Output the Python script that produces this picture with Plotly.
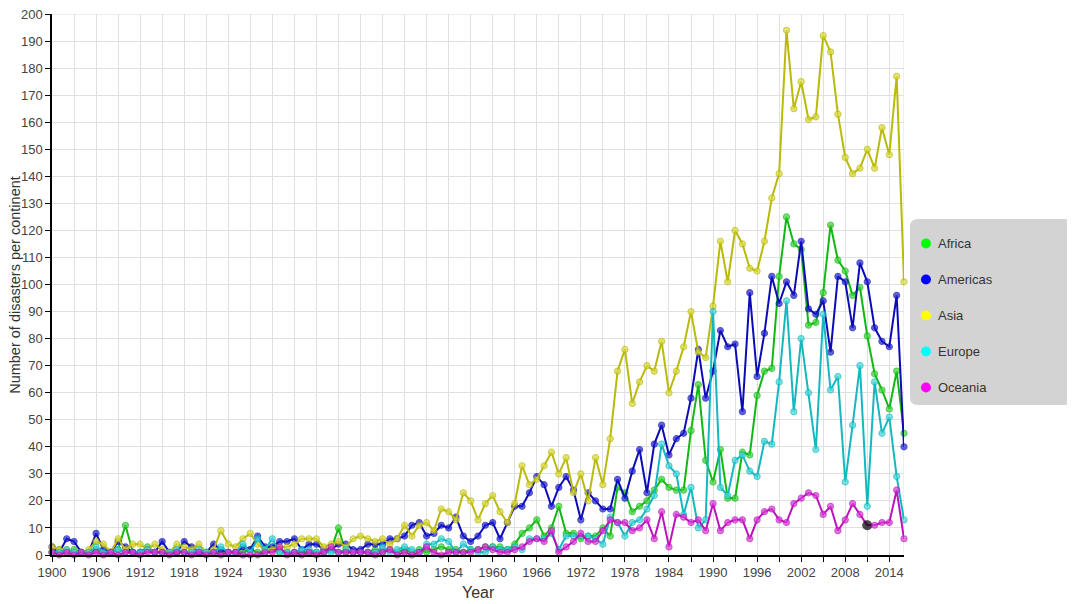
import plotly.graph_objects as go

years = list(range(1900, 2017))

africa = [1, 2, 1, 2, 1, 1, 2, 1, 1, 2, 11, 1, 1, 3, 1, 1, 1, 1, 1, 1,
          1, 1, 1, 1, 1, 1, 1, 2, 1, 1, 2, 1, 1, 1, 1, 1, 1, 1, 2, 10,
          1, 1, 1, 1, 2, 1, 2, 1, 2, 1, 2, 1, 2, 3, 2, 2, 1, 2, 2, 3,
          3, 3, 2, 4, 8, 10, 13, 7, 10, 18, 8, 8, 6, 7, 7, 10, 7, 25, 23, 16,
          18, 20, 24, 28, 25, 24, 24, 46, 63, 35, 27, 39, 21, 21, 38, 37, 59, 68, 69, 103,
          125, 115, 113, 85, 86, 97, 122, 109, 105, 96, 99, 81, 67, 61, 54, 68, 45]

americas = [3, 1, 6, 5, 1, 1, 8, 2, 1, 5, 3, 1, 1, 2, 1, 5, 1, 1, 5, 3,
            1, 1, 4, 2, 1, 1, 3, 2, 7, 3, 3, 5, 5, 6, 2, 4, 4, 2, 2, 4,
            4, 2, 2, 4, 4, 4, 6, 6, 7, 11, 12, 7, 8, 11, 10, 14, 7, 5, 7, 11,
            12, 6, 12, 18, 18, 23, 29, 26, 18, 25, 29, 24, 13, 23, 20, 17, 17, 28, 21, 31,
            39, 23, 41, 48, 37, 43, 45, 58, 76, 58, 68, 83, 77, 78, 53, 97, 66, 82, 103, 93,
            101, 96, 116, 91, 89, 94, 75, 103, 101, 84, 108, 101, 84, 79, 77, 96, 40]

asia = [3, 2, 2, 1, 1, 2, 5, 4, 1, 6, 2, 4, 4, 2, 4, 2, 1, 4, 3, 2,
        4, 1, 2, 9, 4, 3, 6, 8, 4, 2, 2, 3, 3, 4, 6, 6, 6, 3, 4, 5,
        3, 6, 7, 6, 5, 6, 4, 6, 11, 7, 11, 12, 9, 17, 16, 13, 23, 20, 13, 19,
        22, 16, 12, 19, 33, 26, 28, 33, 38, 30, 36, 23, 30, 20, 36, 26, 43, 68, 76, 56,
        64, 70, 68, 79, 60, 68, 77, 90, 75, 73, 92, 116, 101, 120, 115, 106, 105, 116, 132, 141,
        194, 165, 175, 161, 162, 192, 186, 163, 147, 141, 143, 150, 143, 158, 148, 177, 101]

europe = [1, 1, 2, 1, 1, 1, 3, 1, 1, 2, 1, 1, 1, 2, 1, 1, 1, 2, 1, 1,
          2, 1, 1, 3, 1, 1, 4, 1, 6, 2, 6, 1, 1, 1, 2, 2, 1, 1, 1, 1,
          2, 1, 1, 1, 1, 3, 1, 2, 3, 2, 1, 4, 4, 6, 5, 1, 4, 2, 1, 1,
          3, 2, 2, 3, 2, 6, 6, 6, 8, 2, 7, 7, 7, 7, 6, 4, 14, 12, 7, 12,
          13, 17, 22, 41, 33, 30, 15, 25, 10, 13, 90, 25, 22, 35, 37, 31, 29, 42, 41, 64,
          94, 53, 80, 60, 39, 89, 61, 66, 27, 48, 70, 18, 64, 45, 51, 29, 13]

oceania = [1, 0, 1, 0, 1, 0, 1, 0, 1, 0, 1, 1, 0, 1, 1, 1, 0, 1, 1, 0,
           1, 0, 1, 0, 1, 1, 0, 0, 0, 1, 1, 3, 0, 1, 0, 1, 0, 1, 3, 1,
           1, 1, 1, 1, 0, 1, 2, 0, 1, 0, 1, 3, 1, 0, 1, 1, 1, 1, 2, 3,
           2, 1, 1, 2, 3, 5, 6, 5, 9, 1, 3, 5, 8, 5, 5, 9, 13, 12, 12, 9,
           10, 13, 6, 16, 3, 15, 14, 12, 13, 9, 19, 9, 12, 13, 13, 6, 13, 16, 17, 13,
           12, 19, 21, 23, 22, 15, 18, 9, 13, 19, 15, 11, 11, 12, 12, 24, 6]

continents = ["Africa", "Americas", "Asia", "Europe", "Oceania"]
series = [africa, americas, asia, europe, oceania]
line_colors = ["rgb(18,184,18)", "rgb(12,12,182)", "rgb(186,186,10)", "rgb(20,184,190)", "rgb(188,20,188)"]
fill_colors = ["rgb(60,215,60)", "rgb(30,30,215)", "rgb(220,220,60)", "rgb(70,220,220)", "rgb(220,60,220)"]
legend_colors = ["#00ff00", "#0000ff", "#ffff00", "#00ffff", "#ff00ff"]
highlight_year = 2011  # hovered point shown in black

x_ticks = list(range(1900, 2016, 3))
x_labels = [str(v) if (v - 1900) % 6 == 0 else "" for v in x_ticks]
y_ticks = list(range(0, 201, 10))

FONT = "Liberation Sans, Arial, sans-serif"

fig = go.Figure()
for name, vals, lc, fc in zip(continents, series, line_colors, fill_colors):
    mcol = [fc] * len(years)
    msize = [6] * len(years)
    mline = [lc] * len(years)
    if name == "Oceania":
        i = years.index(highlight_year)
        mcol[i] = "black"
        msize[i] = 9
        mline[i] = "black"
    fig.add_trace(go.Scatter(
        x=years, y=vals, name=name, mode="lines+markers",
        line=dict(color=lc, width=2),
        marker=dict(color=mcol, size=msize, line=dict(color=mline, width=1.2)),
        cliponaxis=False, showlegend=False,
    ))

# page body has an 8px margin: work in screen pixels, then shift
OFF = 8
FW, FH = 1075 - OFF, 604 - OFF
L, R, T, B = 51.7 - OFF, 904.0 - OFF, 14.0 - OFF, 555.0 - OFF
W, H = R - L, B - T


def px(xs):
    return (xs - OFF - L) / W


def py(ys):
    return (B - (ys - OFF)) / H


shapes = []
# right and top grid borders
shapes.append(dict(type="line", xref="x", yref="y", x0=2016, x1=2016, y0=0, y1=200,
                   line=dict(color="#e0e0e0", width=1), layer="below"))
shapes.append(dict(type="line", xref="x", yref="y", x0=1900, x1=2016, y0=200, y1=200,
                   line=dict(color="#e0e0e0", width=1), layer="below"))

# legend box (rounded), screen pixel coordinates
bx0, bx1, by0, by1, r = 910, 1073, 219, 405, 8
path = (f"M {px(bx0 + r)},{py(by0)} L {px(bx1 - r)},{py(by0)} "
        f"Q {px(bx1)},{py(by0)} {px(bx1)},{py(by0 + r)} "
        f"L {px(bx1)},{py(by1 - r)} Q {px(bx1)},{py(by1)} {px(bx1 - r)},{py(by1)} "
        f"L {px(bx0 + r)},{py(by1)} Q {px(bx0)},{py(by1)} {px(bx0)},{py(by1 - r)} "
        f"L {px(bx0)},{py(by0 + r)} Q {px(bx0)},{py(by0)} {px(bx0 + r)},{py(by0)} Z")
shapes.append(dict(type="path", xref="paper", yref="paper", path=path,
                   fillcolor="#d3d3d3", line=dict(width=0), layer="above"))

annotations = []
item_y = [243.5, 279.5, 315.5, 351.5, 387.5]
for name, col, yy in zip(continents, legend_colors, item_y):
    shapes.append(dict(type="circle", xref="paper", yref="paper",
                       xsizemode="pixel", ysizemode="pixel",
                       xanchor=px(926), yanchor=py(yy),
                       x0=-5, x1=5, y0=-5, y1=5,
                       fillcolor=col, line=dict(width=0), layer="above"))
    annotations.append(dict(xref="paper", yref="paper", x=px(936), y=py(yy),
                            text=name, showarrow=False, xanchor="left", yanchor="middle",
                            font=dict(family=FONT, size=13, color="#333333")))

annotations.append(dict(xref="paper", yref="paper", x=px(14), y=0.5,
                        text="Number of disasters per continent", showarrow=False,
                        textangle=-90, xanchor="center", yanchor="middle",
                        font=dict(family=FONT, size=14.5, color="#333333")))
annotations.append(dict(xref="paper", yref="paper", x=0.5, y=py(592),
                        text="Year", showarrow=False, xanchor="center", yanchor="middle",
                        font=dict(family=FONT, size=16, color="#333333")))

axis_common = dict(showgrid=True, gridcolor="#e0e0e0", gridwidth=1,
                   showline=True, linecolor="black", linewidth=1.5,
                   ticks="outside", ticklen=5, tickcolor="black", tickwidth=1,
                   zeroline=False, automargin=False, ticklabeloverflow="allow",
                   tickfont=dict(family=FONT, size=13, color="#444444"))

fig.update_layout(
    width=FW, height=FH, autosize=False,
    margin=dict(l=L, r=FW - R, t=T, b=FH - B, pad=0, autoexpand=False),
    paper_bgcolor="white", plot_bgcolor="white",
    showlegend=False, hovermode=False,
    font=dict(family=FONT, size=13, color="#333333"),
    xaxis=dict(range=[1900, 2016], tickmode="array", tickvals=x_ticks, ticktext=x_labels,
               **axis_common),
    yaxis=dict(range=[0, 200.02], tickmode="array", tickvals=y_ticks,
               ticktext=[str(v) for v in y_ticks], **axis_common),
    shapes=shapes, annotations=annotations,
)

fig.write_html("out.html")
